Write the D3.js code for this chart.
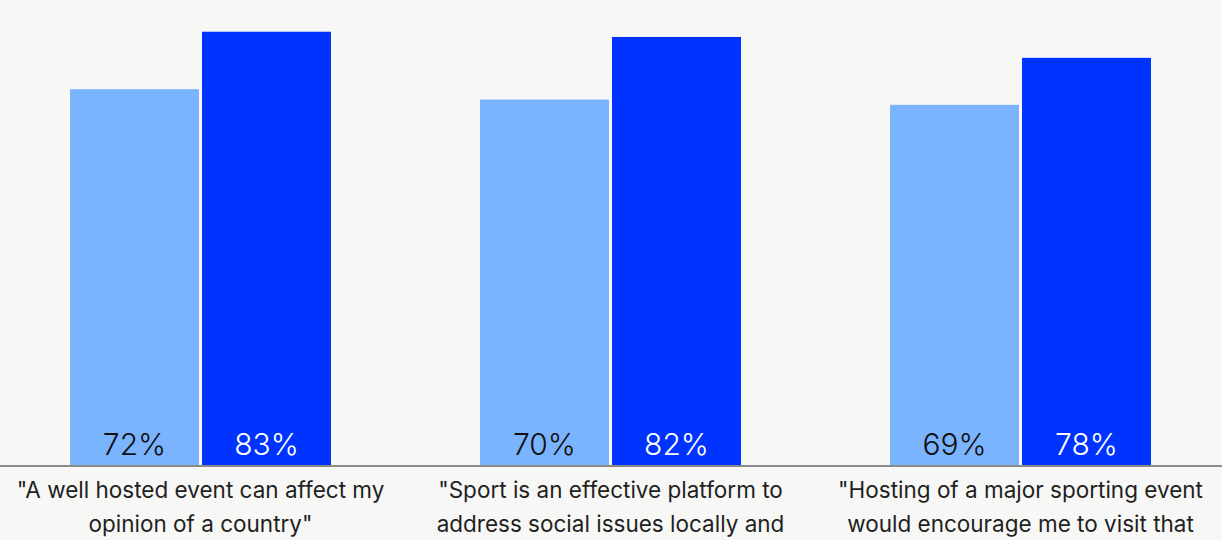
<!DOCTYPE html>
<html>
<head>
<meta charset="utf-8">
<script src="https://cdn.jsdelivr.net/npm/d3@7"></script>
<style>
  html, body { margin: 0; padding: 0; background: #f7f7f5; }
  svg { display: block; }
  text { font-family: Inter, "Noto Sans", sans-serif; }
</style>
</head>
<body>
<svg id="chart" width="1222" height="540"></svg>
<script>
// Survey statements, each drawn as a wrapped label under its pair of bars
const categories = [
  ["\"A well hosted event can affect my", "opinion of a country\""],
  ["\"Sport is an effective platform to", "address social issues locally and"],
  ["\"Hosting of a major sporting event", "would encourage me to visit that"]
];
const categoryKeys = ["opinion", "platform", "visit"];
const seriesNames = ["series1", "series2"];
const series1 = [72, 70, 69];
const series2 = [83, 82, 78];
const seriesColors = ["#7ab4ff", "#0033ff"];
const labelColors = ["#111111", "#ffffff"];

const width = 1222, height = 540;
const baseY = 465;

const svg = d3.select("#chart");
svg.append("rect").attr("width", width).attr("height", height).attr("fill", "#f7f7f5");

const y = d3.scaleLinear().domain([0, 100]).range([baseY, baseY - 522]);

const x0 = d3.scaleBand()
  .domain(categoryKeys)
  .range([-4.5, 1225.5])
  .paddingInner(149 / 410)
  .paddingOuter(149 / 820);

const x1 = d3.scaleBand()
  .domain(seriesNames)
  .range([0, x0.bandwidth()])
  .paddingInner(3 / 132)
  .paddingOuter(0);

const rows = categoryKeys.map((k, i) => ({
  key: k,
  values: [
    { s: seriesNames[0], v: series1[i], idx: 0 },
    { s: seriesNames[1], v: series2[i], idx: 1 }
  ]
}));

const groups = svg.selectAll("g.group")
  .data(rows)
  .join("g")
  .attr("class", "group")
  .attr("transform", d => `translate(${x0(d.key)},0)`);

groups.selectAll("rect")
  .data(d => d.values)
  .join("rect")
  .attr("x", d => x1(d.s))
  .attr("y", d => y(d.v))
  .attr("width", x1.bandwidth())
  .attr("height", d => y(0) - y(d.v))
  .attr("fill", d => seriesColors[d.idx]);

groups.selectAll("text.value")
  .data(d => d.values)
  .join("text")
  .attr("class", "value")
  .attr("x", d => x1(d.s) + x1.bandwidth() / 2)
  .attr("y", baseY - 10.5)
  .attr("text-anchor", "middle")
  .attr("font-size", 30)
  .attr("font-weight", 300)
  .attr("fill", d => labelColors[d.idx])
  .text(d => d.v + "%");

// Baseline
svg.append("line")
  .attr("x1", 0).attr("x2", width)
  .attr("y1", baseY + 1).attr("y2", baseY + 1)
  .attr("stroke", "#8a8a8a").attr("stroke-width", 2);

// Wrapped category labels
groups.append("text")
  .attr("class", "cat")
  .attr("x", x0.bandwidth() / 2)
  .attr("y", 498)
  .attr("text-anchor", "middle")
  .attr("font-size", 22.5)
  .attr("fill", "#1f1f1f")
  .selectAll("tspan")
  .data((d, i) => categories[i])
  .join("tspan")
  .attr("x", x0.bandwidth() / 2)
  .attr("dy", (d, i) => i === 0 ? 0 : 34)
  .text(d => d);
</script>
</body>
</html>
